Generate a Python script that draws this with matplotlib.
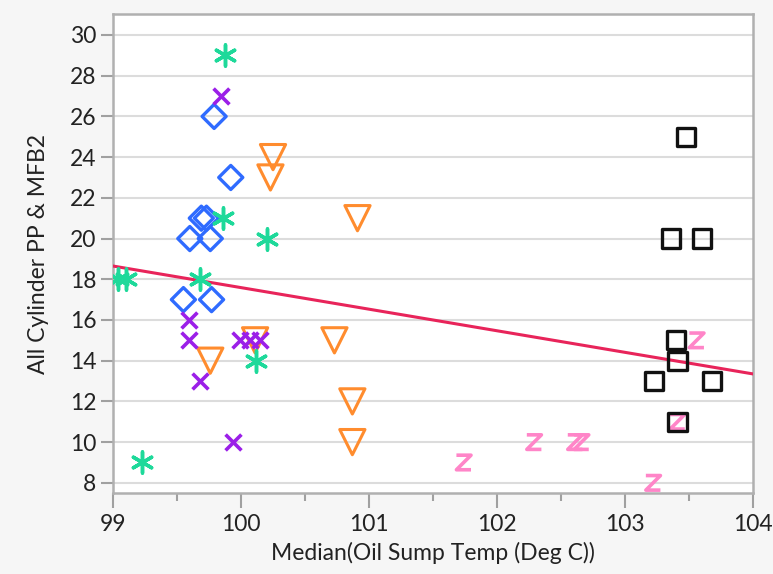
import numpy as np
import matplotlib
matplotlib.use("Agg")
import matplotlib.pyplot as plt
from matplotlib.path import Path
from matplotlib.ticker import MultipleLocator

plt.rcParams['font.family'] = ['Lato', 'DejaVu Sans']

# Median oil sump temperature (x) vs all-cylinder PP & MFB2 (y), per group
green_x = [99.875, 99.86, 100.2, 99.04, 99.1, 99.68, 100.12, 99.23]
green_y = [29, 21, 20, 18, 18, 18, 14, 9]

purple_x = [99.84, 99.59, 99.59, 99.68, 99.94, 99.99, 100.07, 100.15]
purple_y = [27, 16, 15, 13, 10, 15, 15, 15]

blue_x = [99.79, 99.92, 99.69, 99.73, 99.60, 99.76, 99.55, 99.77]
blue_y = [26, 23, 21, 21, 20, 20, 17, 17]

orange_x = [100.25, 100.23, 100.91, 100.11, 100.73, 99.76, 100.87, 100.87]
orange_y = [24, 23, 21, 15, 15, 14, 12, 10]

black_x = [103.48, 103.36, 103.60, 103.40, 103.41, 103.23, 103.68, 103.41]
black_y = [25, 20, 20, 15, 14, 13, 13, 11]

pink_x = [103.56, 101.74, 102.29, 102.61, 102.66, 103.22, 103.41]
pink_y = [15, 9, 10, 10, 10, 8, 11]

# Least-squares fit line endpoints
fit_x = [99, 104]
fit_y = [18.65, 13.35]

x_ticks = [99, 100, 101, 102, 103, 104]
y_ticks = list(range(8, 31, 2))

fig = plt.figure(figsize=(7.73, 5.74), dpi=100, facecolor='#f6f6f6')
ax = fig.add_axes([0.1462, 0.1411, 0.8279, 0.8345])
ax.set_facecolor('white')

z_path = Path([(-1, 1), (1, 1), (-1, -1), (1, -1)],
              [Path.MOVETO, Path.LINETO, Path.LINETO, Path.LINETO])

ax.plot(fit_x, fit_y, color='#e8245a', lw=2.2, zorder=3)

ax.scatter(pink_x, pink_y, marker=z_path, s=110, facecolors='none',
           edgecolors='#ff85c8', linewidths=2.6, zorder=4)
ax.scatter(black_x, black_y, marker='s', s=170, facecolors='none',
           edgecolors='#111111', linewidths=2.4, zorder=5)
ax.scatter(orange_x, orange_y, marker='v', s=330, facecolors='none',
           edgecolors='#ff8c2e', linewidths=2.2, zorder=4)
ax.scatter(blue_x, blue_y, marker='D', s=150, facecolors='none',
           edgecolors='#2f6bff', linewidths=2.4, zorder=4)
ax.scatter(purple_x, purple_y, marker='x', s=130, color='#9b1fe8',
           linewidths=2.6, zorder=4)
ax.scatter(green_x, green_y, marker=(6, 2, 0), s=230, color='#1ed99a',
           linewidths=2.5, zorder=4)

ax.set_xlim(99, 104)
ax.set_ylim(7.5, 31.03)
ax.set_xticks(x_ticks)
ax.set_yticks(y_ticks)
ax.xaxis.set_minor_locator(MultipleLocator(0.5))

ax.grid(axis='y', color='#dcdcdc', lw=1.5, zorder=0)
ax.set_axisbelow(True)

for s in ax.spines.values():
    s.set_color('#b0b0b0')
    s.set_linewidth(1.8)

ax.tick_params(axis='both', which='major', direction='out', color='#a0a0a0',
               width=1.5, labelsize=16.5, labelcolor='#222222')
ax.tick_params(axis='y', which='major', length=9, pad=3)
ax.tick_params(axis='x', which='major', length=11, pad=4)
ax.tick_params(axis='x', which='minor', direction='out', color='#a0a0a0',
               width=1.5, length=6)

ax.set_xlabel('Median(Oil Sump Temp (Deg C))', fontsize=16.5, color='#222222',
              labelpad=5)
ax.set_ylabel('All Cylinder PP & MFB2', fontsize=16.5, color='#222222',
              labelpad=15)

fig.savefig('out.png', dpi=100, facecolor=fig.get_facecolor())
